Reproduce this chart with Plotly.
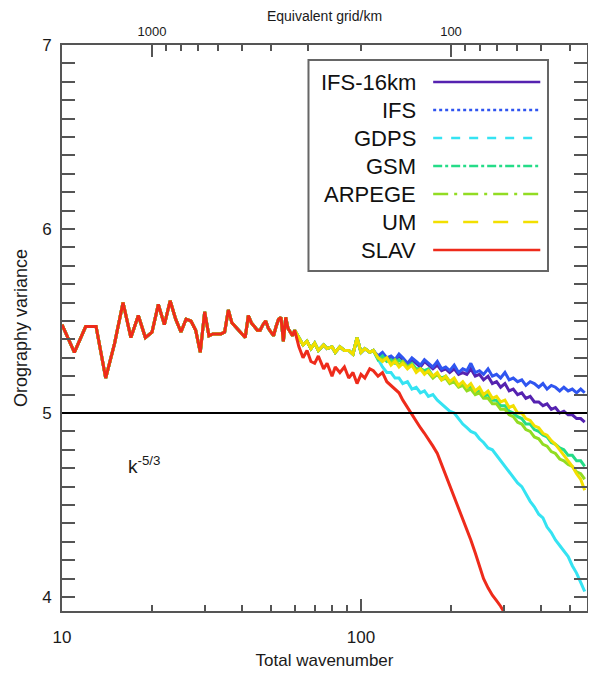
import plotly.graph_objects as go
import math

# ---------------- data ----------------
K_COMMON = list(range(10, 61))
K_TAIL = [62, 64, 66, 68, 70, 72, 75, 77, 80, 82, 85, 88, 91, 94, 97, 100, 103, 107, 110,
          114, 118, 122, 126, 130, 134, 138, 143, 148, 153, 158, 163, 168, 174, 180, 186,
          192, 198, 205, 212, 219, 226, 233, 241, 249, 257, 266, 275, 284, 293, 303, 313,
          323, 334, 345, 356, 368, 380, 393, 406, 419, 433, 447, 462, 477, 493, 509, 526,
          543, 560]

COMMON = [5.48, 5.33, 5.47, 5.47, 5.19, 5.38, 5.60, 5.41, 5.53, 5.41,
          5.44, 5.59, 5.48, 5.61, 5.51, 5.44, 5.51, 5.50, 5.45, 5.33,
          5.55, 5.42, 5.43, 5.43, 5.43, 5.44, 5.56, 5.49, 5.47, 5.45,
          5.43, 5.41, 5.53, 5.49, 5.47, 5.45, 5.45, 5.48, 5.50, 5.46,
          5.44, 5.42, 5.47, 5.51, 5.52, 5.39, 5.52, 5.46, 5.44, 5.42,
          5.45]

BAND = [5.41, 5.37, 5.39, 5.35, 5.38, 5.34, 5.37, 5.35, 5.36, 5.33,
        5.36, 5.34, 5.34, 5.32, 5.41, 5.33, 5.35, 5.33, 5.34]

IFS16_TAIL = [5.30, 5.32, 5.29, 5.30, 5.28, 5.31, 5.29, 5.26, 5.29, 5.27,
              5.25, 5.28, 5.26, 5.24, 5.26, 5.23, 5.24, 5.22, 5.24, 5.21,
              5.22, 5.21, 5.24, 5.20, 5.21, 5.18, 5.20, 5.16, 5.17, 5.14,
              5.16, 5.12, 5.13, 5.10, 5.11, 5.08, 5.09, 5.06, 5.06, 5.04,
              5.05, 5.02, 5.03, 5.00, 5.01, 4.99, 4.99, 4.97, 4.97, 4.95]

IFS_TAIL = [5.31, 5.33, 5.30, 5.31, 5.29, 5.32, 5.30, 5.27, 5.30, 5.28,
            5.26, 5.29, 5.27, 5.25, 5.28, 5.24, 5.25, 5.23, 5.26, 5.22,
            5.24, 5.23, 5.27, 5.22, 5.23, 5.21, 5.24, 5.20, 5.21, 5.19,
            5.22, 5.18, 5.19, 5.17, 5.18, 5.15, 5.17, 5.16, 5.14, 5.16,
            5.13, 5.15, 5.14, 5.12, 5.14, 5.12, 5.13, 5.11, 5.13, 5.11]

GDPS_TAIL = [5.29, 5.25, 5.22, 5.22, 5.19, 5.19, 5.16, 5.17, 5.13, 5.14,
             5.11, 5.12, 5.09, 5.10, 5.07, 5.05, 5.03, 5.01, 5.00, 4.97,
             4.94, 4.92, 4.90, 4.89, 4.86, 4.84, 4.81, 4.80, 4.77, 4.74,
             4.71, 4.68, 4.65, 4.62, 4.60, 4.56, 4.52, 4.49, 4.45, 4.43,
             4.38, 4.35, 4.31, 4.28, 4.25, 4.22, 4.17, 4.13, 4.08, 4.03]

GSM_TAIL = [5.29, 5.31, 5.28, 5.29, 5.27, 5.29, 5.27, 5.25, 5.27, 5.24,
            5.24, 5.23, 5.24, 5.20, 5.21, 5.19, 5.20, 5.17, 5.18, 5.15,
            5.16, 5.14, 5.14, 5.11, 5.12, 5.09, 5.10, 5.07, 5.07, 5.04,
            5.04, 5.01, 5.00, 4.98, 4.97, 4.94, 4.94, 4.91, 4.90, 4.88,
            4.87, 4.84, 4.83, 4.81, 4.80, 4.77, 4.77, 4.74, 4.74, 4.71]

ARPEGE_TAIL = [5.30, 5.29, 5.30, 5.27, 5.29, 5.26, 5.28, 5.25, 5.26, 5.23,
               5.24, 5.22, 5.22, 5.19, 5.21, 5.18, 5.19, 5.16, 5.17, 5.14,
               5.15, 5.12, 5.13, 5.10, 5.11, 5.08, 5.08, 5.05, 5.05, 5.02,
               5.02, 4.99, 4.98, 4.95, 4.94, 4.91, 4.90, 4.87, 4.86, 4.83,
               4.82, 4.79, 4.78, 4.75, 4.74, 4.72, 4.71, 4.68, 4.67, 4.64]

UM_TAIL = [5.30, 5.28, 5.30, 5.26, 5.28, 5.25, 5.27, 5.24, 5.26, 5.22,
           5.24, 5.21, 5.23, 5.20, 5.22, 5.18, 5.20, 5.17, 5.19, 5.15,
           5.17, 5.14, 5.16, 5.12, 5.14, 5.10, 5.12, 5.08, 5.09, 5.06,
           5.07, 5.03, 5.04, 5.00, 5.00, 4.97, 4.96, 4.93, 4.92, 4.89,
           4.88, 4.85, 4.83, 4.80, 4.77, 4.74, 4.71, 4.67, 4.64, 4.58]

SLAV_TAIL = [5.36, 5.30, 5.34, 5.28, 5.27, 5.31, 5.24, 5.27, 5.20, 5.25,
             5.22, 5.25, 5.19, 5.22, 5.16, 5.21, 5.19, 5.24, 5.23, 5.20,
             5.22, 5.17, 5.15, 5.13, 5.11, 5.07, 5.03, 4.99, 4.96, 4.92,
             4.89, 4.86, 4.82, 4.78, 4.72, 4.67, 4.61, 4.55, 4.49, 4.43,
             4.37, 4.31, 4.24, 4.17, 4.10, 4.05, 4.01, 3.98, 3.95, 3.91]

SERIES_NAMES = ["IFS-16km", "IFS", "GDPS", "GSM", "ARPEGE", "UM", "SLAV"]
SERIES_COLORS = ["#5522b0", "#2f55f0", "#35e3f2", "#25dc88", "#92dc22", "#f2df00", "#ee2b1b"]
SERIES_DASH = ["solid", "dot", "dash", "dashdot", "longdashdot", "longdash", "solid"]

TOP_KM_MAJOR = [1000, 100]
TOP_KM_MINOR = [900, 800, 700, 600, 500, 400, 300, 200, 90, 80, 70, 60, 50, 40]
BOTTOM_MAJOR = [10, 100]
BOTTOM_MINOR = [20, 30, 40, 50, 60, 70, 80, 90, 200, 300, 400, 500]
REF_LEVEL = 5
SLOPE_LABEL = "k<sup>-5/3</sup>"
SLOPE_POS = (16.4, 4.72)

# build series
K_FULL = K_COMMON + K_TAIL
series_y = {
    "IFS-16km": COMMON + BAND + IFS16_TAIL,
    "IFS": COMMON + BAND + IFS_TAIL,
    "GDPS": COMMON + BAND + GDPS_TAIL,
    "GSM": COMMON + BAND + GSM_TAIL,
    "ARPEGE": COMMON + BAND + ARPEGE_TAIL,
    "UM": COMMON + BAND + UM_TAIL,
    "SLAV": COMMON + SLAV_TAIL,
}
series_x = {n: K_FULL[:len(v)] for n, v in series_y.items()}

FONT = "Liberation Sans, Arial, sans-serif"
fig = go.Figure()

for name, color in zip(SERIES_NAMES, SERIES_COLORS):
    fig.add_trace(go.Scatter(x=series_x[name], y=series_y[name], mode="lines",
                             line=dict(color=color, width=3), name=name,
                             showlegend=False, hoverinfo="skip"))

# invisible trace to activate top axis
fig.add_trace(go.Scatter(x=[None], y=[None], xaxis="x2", showlegend=False, hoverinfo="skip"))

fig.add_hline(y=REF_LEVEL, line=dict(color="black", width=2), layer="above")

XR = [1, math.log10(570)]
AX = "#555555"
TXT = "#1a1a1a"

# page body has an 8px default margin, so the figure is sized to fit inside it
fig.update_layout(
    width=580, height=665,
    margin=dict(l=54, r=1, t=37, b=62),
    paper_bgcolor="white", plot_bgcolor="white",
    font=dict(family=FONT, color=TXT),
    showlegend=False,
    xaxis=dict(type="log", range=XR, showgrid=False, zeroline=False, automargin=False,
               showline=True, linecolor=AX, linewidth=2, mirror=False,
               tickmode="array", tickvals=BOTTOM_MAJOR, ticktext=[str(v) for v in BOTTOM_MAJOR],
               ticks="inside", ticklen=12, tickwidth=1.5, tickcolor=AX,
               minor=dict(tickmode="array", tickvals=BOTTOM_MINOR, ticks="inside",
                          ticklen=6, tickwidth=1.5, tickcolor=AX),
               tickfont=dict(size=17, color=TXT), ticklabelstandoff=10,
               title=dict(text="Total wavenumber", font=dict(size=17, color=TXT), standoff=8)),
    xaxis2=dict(type="log", range=XR, overlaying="x", side="top", anchor="y", automargin=False,
                showgrid=False, zeroline=False, showline=True, linecolor=AX, linewidth=2,
                tickmode="array", tickvals=[20000 / v for v in TOP_KM_MAJOR],
                ticktext=[str(v) for v in TOP_KM_MAJOR],
                ticks="inside", ticklen=12, tickwidth=1.5, tickcolor=AX,
                minor=dict(tickmode="array", tickvals=[20000 / v for v in TOP_KM_MINOR],
                           ticks="inside", ticklen=6, tickwidth=1.5, tickcolor=AX),
                tickfont=dict(size=13, color=TXT), ticklabelstandoff=2,
                title=dict(text="Equivalent grid/km", font=dict(size=14, color=TXT), standoff=1)),
    yaxis=dict(range=[3.924, 7.0], showgrid=False, zeroline=False, automargin=False,
               showline=True, linecolor=AX, linewidth=2, mirror="allticks",
               tickmode="linear", tick0=4, dtick=1,
               ticks="inside", ticklen=13, tickwidth=1.5, tickcolor=AX,
               minor=dict(dtick=0.1, ticks="inside", ticklen=7, tickwidth=1.5, tickcolor=AX),
               tickfont=dict(size=17, color=TXT), ticklabelstandoff=5,
               title=dict(text="Orography variance", font=dict(size=18, color=TXT), standoff=10)),
)

# slope annotation
fig.add_annotation(x=math.log10(SLOPE_POS[0]), y=SLOPE_POS[1], xref="x", yref="y",
                   xanchor="left", text=SLOPE_LABEL, showarrow=False,
                   font=dict(size=19, color=TXT))

# custom legend (labels left, line samples right)
BOX = dict(x0=0.4695, x1=0.9257, y0=0.6007, y1=0.9735)
fig.add_shape(type="rect", xref="paper", yref="paper", **BOX,
              line=dict(color="#666666", width=2), fillcolor="rgba(255,255,255,0)", layer="above")
ROW_TOP = 0.9346
ROW_STEP = 0.0495
for i, (name, color, dash) in enumerate(zip(SERIES_NAMES, SERIES_COLORS, SERIES_DASH)):
    yy = ROW_TOP - i * ROW_STEP
    fig.add_annotation(x=0.678, y=yy, xref="paper", yref="paper", text=name,
                       xanchor="right", yanchor="middle", showarrow=False,
                       font=dict(size=22, color="#111111"))
    fig.add_shape(type="line", xref="paper", yref="paper", x0=0.707, x1=0.911, y0=yy, y1=yy,
                  line=dict(color=color, width=2.5, dash=dash), layer="above")

fig.write_html("out.html")
